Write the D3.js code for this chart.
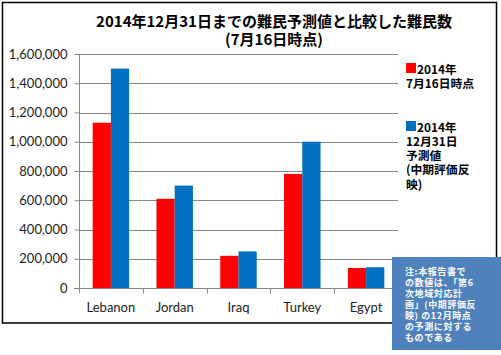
<!DOCTYPE html>
<html><head><meta charset="utf-8">
<script src="https://cdn.jsdelivr.net/npm/d3@7/dist/d3.min.js"></script>
<style>body{margin:0;background:#fff}svg{display:block}</style>
</head><body>
<svg id="c" width="501" height="355"></svg>
<script>
const categories = ["Lebanon","Jordan","Iraq","Turkey","Egypt"];
const julyValues = [1130000, 610000, 220000, 780000, 137000];
const decValues = [1500000, 700000, 250000, 1000000, 142000];
const yTicks = [0,200000,400000,600000,800000,1000000,1200000,1400000,1600000];
const seriesNames = [["2014年","7月16日時点"],["2014年","12月31日","予測値","(中期評価反","映)"]];
const titleLines = ["2014年12月31日までの難民予測値と比較した難民数","(7月16日時点)"];
const noteLines = ["注:本報告書で","の数値は、「第6","次地域対応計","画」(中期評価反","映) の12月時点","の予測に対する","ものである"];
const colors = ["#FF0000","#0070C0"];

const svg = d3.select("#c");
const cjk = "'Noto Sans CJK JP','Noto Sans',sans-serif";
const latin = "Lato, 'Liberation Sans', sans-serif";

svg.append("rect").attr("x",2.5).attr("y",2.5).attr("width",494).attr("height",320.5)
  .attr("fill","#fff").attr("stroke","#000").attr("stroke-width",1.5);

const x0 = d3.scaleBand().domain(categories).range([79,398]).paddingInner(0).paddingOuter(0);
const x1 = d3.scaleBand().domain([0,1]).range([0,x0.bandwidth()]).paddingInner(0).paddingOuter(0.75);
const y = d3.scaleLinear().domain([0,1600000]).range([288,54]);

// gridlines
svg.append("g").selectAll("line").data(yTicks.slice(1)).join("line")
  .attr("x1",79).attr("x2",398).attr("y1",d=>Math.round(y(d))+0.5).attr("y2",d=>Math.round(y(d))+0.5)
  .attr("stroke","#878787").attr("stroke-width",1);

// bars
const series = [julyValues, decValues];
categories.forEach((c,i)=>{
  series.forEach((vals,s)=>{
    svg.append("rect").attr("x",x0(c)+x1(s)).attr("width",x1.bandwidth())
      .attr("y",y(vals[i])).attr("height",y(0)-y(vals[i])).attr("fill",colors[s]);
  });
});

// y axis
const yAxis = d3.axisLeft(y).tickValues(yTicks).tickSize(5).tickPadding(7)
  .tickFormat(d3.format(","));
const gy = svg.append("g").attr("transform","translate(79.5,0)").call(yAxis);
gy.select(".domain").attr("stroke","#878787").attr("d","M0,54V293");
gy.selectAll(".tick line").attr("stroke","#878787");
gy.selectAll(".tick text").attr("font-family",latin).attr("font-size",13).attr("fill","#222");

// x axis
const gx = svg.append("g").attr("transform","translate(0,288.5)");
gx.append("line").attr("x1",74).attr("x2",398).attr("stroke","#878787");
gx.selectAll(".tk").data(categories.slice(1).concat(["end"])).join("line")
  .attr("x1",(d,i)=>Math.round(x0.range()[0]+x0.step()*(i+1))+0.5)
  .attr("x2",(d,i)=>Math.round(x0.range()[0]+x0.step()*(i+1))+0.5)
  .attr("y1",0).attr("y2",5).attr("stroke","#878787");
gx.selectAll("text").data(categories).join("text")
  .attr("x",d=>x0(d)+x0.bandwidth()/2).attr("y",23).attr("text-anchor","middle")
  .attr("font-family",latin).attr("font-size",13).attr("fill","#222").text(d=>d);

// multi-line text helper
function multiline(x0s, y0, lh, lines, attrs){
  const g = svg.append("g");
  lines.forEach((s,j)=>{
    const t = g.append("text").attr("x",typeof x0s==="function"?x0s(j):x0s).attr("y",y0+j*lh).text(s);
    Object.entries(attrs).forEach(([k,v])=>t.attr(k,v));
  });
  return g;
}

// title
multiline(274, 26.5, 18.2, titleLines, {"text-anchor":"middle","font-family":cjk,"font-weight":"bold","font-size":15,"fill":"#000"});

// legend
const legY = [63,121];
seriesNames.forEach((lines,s)=>{
  svg.append("rect").attr("x",406).attr("y",legY[s]).attr("width",10).attr("height",10).attr("fill",colors[s]);
  multiline(j=>j===0?417:406, legY[s]+10.5, 14.3, lines, {"font-family":cjk,"font-weight":"bold","font-size":11.8,"fill":"#000"});
});

// note box
svg.append("rect").attr("x",392).attr("y",257).attr("width",109).attr("height",93).attr("fill","#4F81BD");
multiline(405, 275, 11, noteLines, {"font-family":cjk,"font-weight":"bold","font-size":9,"letter-spacing":0.6,"fill":"#fff"});
</script>
</body></html>
